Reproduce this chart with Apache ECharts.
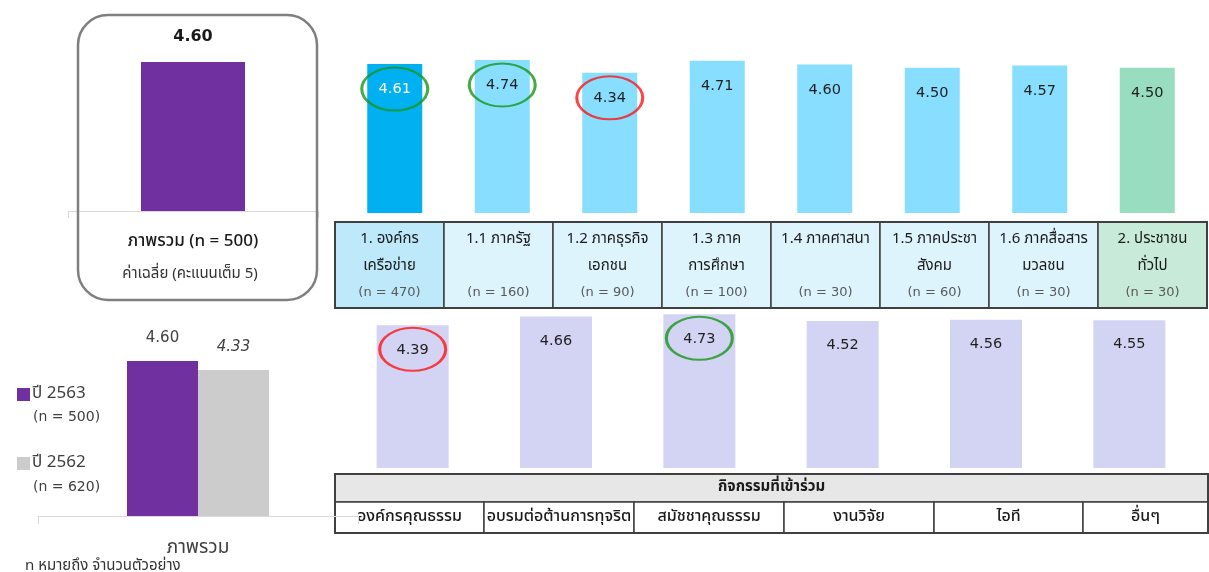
<!DOCTYPE html>
<html>
<head>
<meta charset="utf-8">
<script src="https://cdn.jsdelivr.net/npm/echarts@6/dist/echarts.min.js"></script>
<style>
  html, body { margin: 0; padding: 0; background: #fff; }
  #chart { width: 1209px; height: 572px; }
</style>
</head>
<body>
<div id="chart"></div>
<script>
// ---- data ----
const overallName = 'ภาพรวม';
const overallN = 500;
const overallValue = 4.60;
const overallNote = 'ค่าเฉลี่ย (คะแนนเต็ม 5)';

const groupNames = ['1. องค์กร\nเครือข่าย', '1.1 ภาครัฐ', '1.2 ภาคธุรกิจ\nเอกชน', '1.3 ภาค\nการศึกษา',
                    '1.4 ภาคศาสนา', '1.5 ภาคประชา\nสังคม', '1.6 ภาคสื่อสาร\nมวลชน', '2. ประชาชน\nทั่วไป'];
const groupN = [470, 160, 90, 100, 30, 60, 30, 30];
const groupValues = [4.61, 4.74, 4.34, 4.71, 4.60, 4.50, 4.57, 4.50];
const groupHigh = [0, 1];   // circled green
const groupLow = [2];       // circled red

const activityTitle = 'กิจกรรมที่เข้าร่วม';
const activityNames = ['องค์กรคุณธรรม', 'อบรมต่อต้านการทุจริต', 'สมัชชาคุณธรรม', 'งานวิจัย', 'ไอที', 'อื่นๆ'];
const activityValues = [4.39, 4.66, 4.73, 4.52, 4.56, 4.55];
const activityHigh = [2];
const activityLow = [0];

const yearNames = ['ปี 2563', 'ปี 2562'];
const yearN = [500, 620];
const yearValues = [4.60, 4.33];

const footNote = 'n หมายถึง จำนวนตัวอย่าง';

// ---- styles ----
const THAI = "Tahoma, 'Noto Sans Thai', 'Noto Sans', 'DejaVu Sans', sans-serif";
const NUM = "'DejaVu Sans', Tahoma, sans-serif";
const PURPLE = '#7030A0';
const GREY_BAR = '#CCCCCC';
const groupColors = ['#00B0F0', '#87DEFF', '#87DEFF', '#87DEFF', '#87DEFF', '#87DEFF', '#87DEFF', '#99DDC0'];
const groupLabelColors = ['#FFFFFF', '#1F1F1F', '#1F1F1F', '#1F1F1F', '#1F1F1F', '#1F1F1F', '#1F1F1F', '#1F1F1F'];
const cellColors = ['#BDE9FA', '#DDF4FD', '#DDF4FD', '#DDF4FD', '#DDF4FD', '#DDF4FD', '#DDF4FD', '#C8EBD9'];
const GREEN_RING = '#179617';
const RED_RING = '#FF1414';
const BORDER = '#404040';

const chart = echarts.init(document.getElementById('chart'), null, { renderer: 'canvas' });

function hiddenValueAxis(gridIndex) {
  return { type: 'value', gridIndex, min: 0, max: 5, show: false };
}

function ringSeries(xAxisIndex, yAxisIndex, idxs, values, color, offsetY) {
  return {
    type: 'scatter', xAxisIndex, yAxisIndex, z: 5, silent: true,
    symbol: 'circle', symbolSize: [66, 43], symbolOffset: [0, offsetY],
    itemStyle: { color: 'rgba(0,0,0,0)', borderColor: color, borderWidth: 2.5 },
    data: idxs.map(i => [i, values[i]])
  };
}

// ---- table graphics ----
const graphics = [];

// rounded frame around the overall bar
graphics.push({
  type: 'rect', shape: { x: 78, y: 15, width: 239, height: 285, r: 30 },
  style: { fill: null, stroke: '#7F7F7F', lineWidth: 2.5 }, z: 10
});
graphics.push({
  type: 'text', x: 193, y: 243,
  style: { text: overallName + ' (n = ' + overallN + ')', font: '500 17px ' + THAI, fill: '#1A1A1A', textAlign: 'center', textVerticalAlign: 'middle' }
});
graphics.push({
  type: 'text', x: 190, y: 275,
  style: { text: overallNote, font: '15px ' + THAI, fill: '#333333', textAlign: 'center', textVerticalAlign: 'middle' }
});

// group table
const tX = 335, tY = 222, cW = 109, tH = 86;
groupNames.forEach((name, i) => {
  graphics.push({
    type: 'rect', shape: { x: tX + i * cW, y: tY, width: cW, height: tH },
    style: { fill: cellColors[i], stroke: BORDER, lineWidth: 1.5 }
  });
  graphics.push({
    type: 'text', x: tX + i * cW + cW / 2, y: tY + 4,
    style: { text: name, font: '15px ' + THAI, fill: '#1A1A1A', textAlign: 'center', textVerticalAlign: 'top', lineHeight: 27 }
  });
  graphics.push({
    type: 'text', x: tX + i * cW + cW / 2, y: tY + 71,
    style: { text: '(n = ' + groupN[i] + ')', font: '13px ' + NUM, fill: '#595959', textAlign: 'center', textVerticalAlign: 'middle' }
  });
});
graphics.push({
  type: 'rect', shape: { x: tX, y: tY, width: cW * groupNames.length, height: tH },
  style: { fill: null, stroke: BORDER, lineWidth: 2 }
});

// activity table
const aX = 335, aY = 474, aW = 873, hH = 28, rH = 31;
const aEdges = [335, 484, 634, 784, 934, 1083, 1208];
graphics.push({
  type: 'rect', shape: { x: aX, y: aY, width: aW, height: hH },
  style: { fill: '#E7E7E7', stroke: BORDER, lineWidth: 1.5 }
});
graphics.push({
  type: 'text', x: aX + aW / 2, y: aY + hH / 2,
  style: { text: activityTitle, font: 'bold 15px ' + THAI, fill: '#1A1A1A', textAlign: 'center', textVerticalAlign: 'middle' }
});
activityNames.forEach((name, i) => {
  const x0 = aEdges[i], x1 = aEdges[i + 1];
  graphics.push({
    type: 'rect', shape: { x: x0, y: aY + hH, width: x1 - x0, height: rH },
    style: { fill: '#FFFFFF', stroke: BORDER, lineWidth: 1.5 }
  });
  graphics.push({
    type: 'text', x: (x0 + x1) / 2, y: aY + hH + rH / 2,
    style: { text: name, font: '500 16px ' + THAI, fill: '#1A1A1A', textAlign: 'center', textVerticalAlign: 'middle' }
  });
});
graphics.push({
  type: 'rect', shape: { x: aX, y: aY, width: aW, height: hH + rH },
  style: { fill: null, stroke: BORDER, lineWidth: 2 }
});

// sample sizes beside the year legend
yearN.forEach((n, i) => {
  graphics.push({
    type: 'text', x: 33, y: 417 + i * 70,
    style: { text: '(n = ' + n + ')', font: '14px ' + NUM, fill: '#404040', textAlign: 'left', textVerticalAlign: 'middle' }
  });
});
graphics.push({
  type: 'text', x: 25, y: 567,
  style: { text: footNote, font: '15px ' + THAI, fill: '#333333', textAlign: 'left', textVerticalAlign: 'middle' }
});

const option = {
  animation: false,
  backgroundColor: '#FFFFFF',
  textStyle: { fontFamily: THAI },
  grid: [
    { left: 68, width: 250, top: 49, height: 162 },     // overall bar
    { left: 341, width: 860, top: 51.5, height: 161.5 }, // groups
    { left: 38, width: 320, top: 347.5, height: 168.5 }, // year comparison
    { left: 341, width: 860, top: 305.5, height: 162.5 } // activities
  ],
  xAxis: [
    { type: 'category', gridIndex: 0, data: [overallName],
      axisLine: { lineStyle: { color: '#D9D9D9' } },
      axisTick: { show: true, alignWithLabel: false, interval: 0, length: 7, lineStyle: { color: '#D9D9D9' } },
      axisLabel: { show: false } },
    { type: 'category', gridIndex: 1, data: groupNames, show: false },
    { type: 'category', gridIndex: 2, data: [overallName],
      axisLine: { lineStyle: { color: '#D9D9D9' } },
      axisTick: { show: true, alignWithLabel: false, interval: 0, length: 8, lineStyle: { color: '#D9D9D9' } },
      axisLabel: { margin: 24, fontSize: 19, color: '#404040', fontFamily: THAI } },
    { type: 'category', gridIndex: 3, data: activityNames, show: false }
  ],
  yAxis: [hiddenValueAxis(0), hiddenValueAxis(1), hiddenValueAxis(2), hiddenValueAxis(3)],
  legend: {
    orient: 'vertical', left: 12, top: 381, itemWidth: 13, itemHeight: 13, itemGap: 52,
    icon: 'rect', data: yearNames,
    textStyle: { fontSize: 17, color: '#404040', fontFamily: THAI, padding: [0, 0, 0, -3] }
  },
  graphic: graphics,
  series: [
    {
      type: 'bar', xAxisIndex: 0, yAxisIndex: 0, barWidth: 104,
      data: [overallValue], itemStyle: { color: PURPLE },
      label: { show: true, position: 'top', distance: 17, formatter: p => p.value.toFixed(2),
               fontFamily: NUM, fontWeight: 'bold', fontSize: 16, color: '#1A1A1A' }
    },
    {
      type: 'bar', xAxisIndex: 1, yAxisIndex: 1, barWidth: 55,
      data: groupValues.map((v, i) => ({
        value: v, itemStyle: { color: groupColors[i] },
        label: { color: groupLabelColors[i] }
      })),
      label: { show: true, position: 'insideTop', distance: 18, formatter: p => p.value.toFixed(2),
               fontFamily: NUM, fontSize: 14.5 }
    },
    ringSeries(1, 1, groupHigh, groupValues, GREEN_RING, 25),
    ringSeries(1, 1, groupLow, groupValues, RED_RING, 25),
    {
      type: 'bar', name: yearNames[0], xAxisIndex: 2, yAxisIndex: 2, barWidth: 71, barGap: '0%',
      data: [yearValues[0]], itemStyle: { color: PURPLE },
      label: { show: true, position: 'top', distance: 15, formatter: p => p.value.toFixed(2),
               fontFamily: NUM, fontSize: 15, color: '#404040' }
    },
    {
      type: 'bar', name: yearNames[1], xAxisIndex: 2, yAxisIndex: 2, barWidth: 71, barGap: '0%',
      data: [yearValues[1]], itemStyle: { color: GREY_BAR },
      label: { show: true, position: 'top', distance: 15, formatter: p => p.value.toFixed(2),
               fontFamily: NUM, fontSize: 15, fontStyle: 'italic', color: '#404040' }
    },
    {
      type: 'bar', xAxisIndex: 3, yAxisIndex: 3, barWidth: 72,
      data: activityValues, itemStyle: { color: '#D3D3F3' },
      label: { show: true, position: 'insideTop', distance: 17, formatter: p => p.value.toFixed(2),
               fontFamily: NUM, fontSize: 14.5, color: '#1F1F1F' }
    },
    ringSeries(3, 3, activityHigh, activityValues, GREEN_RING, 24),
    ringSeries(3, 3, activityLow, activityValues, RED_RING, 24)
  ]
};

chart.setOption(option);
</script>
</body>
</html>
